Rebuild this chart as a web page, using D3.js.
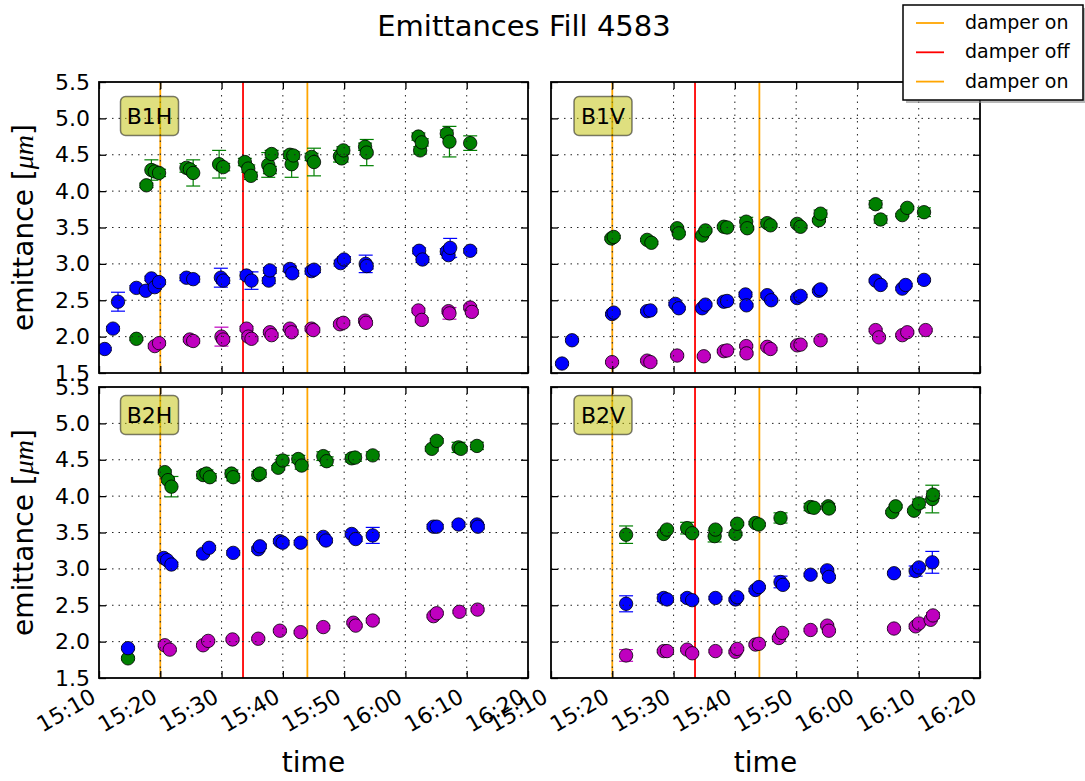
<!DOCTYPE html>
<html>
<head>
<meta charset="utf-8">
<script src="https://cdn.jsdelivr.net/npm/d3@7"></script>
<style>
	body { margin: 0; background: #fff; }
	svg { font-family: "DejaVu Sans", sans-serif; }
</style>
</head>
<body>
<svg id="chart" width="1085" height="781"></svg>
<script>
// Emittances Fill 4583 -- 2x2 panels, three emittance series per plane
// each point: [time, emittance (um), error]

const timeRange = ['15:10:00', '16:20:00'];
const yRange = [1.5, 5.5];
const yTicks = [1.5, 2.0, 2.5, 3.0, 3.5, 4.0, 4.5, 5.0, 5.5];
const panelNames = ['B1H', 'B1V', 'B2H', 'B2V'];

const damperTimes = ['15:20:00', '15:33:30', '15:44:00'];
const damperLabels = ['damper on', 'damper off', 'damper on'];
const damperColors = ['orange', 'red', 'orange'];

// ---- B1H ----
const b1hGreen = [
	['15:16:06', 1.97, 0.02], ['15:17:44', 4.08, 0.03], ['15:18:33', 4.29, 0.14], ['15:19:06', 4.27, 0.05],
	['15:19:48', 4.25, 0.05], ['15:24:16', 4.32, 0.06], ['15:24:49', 4.30, 0.05], ['15:25:22', 4.25, 0.18],
	['15:29:36', 4.37, 0.19], ['15:30:16', 4.33, 0.05], ['15:33:48', 4.40, 0.05], ['15:34:21', 4.31, 0.05],
	['15:34:47', 4.21, 0.05], ['15:37:37', 4.36, 0.17], ['15:37:53', 4.29, 0.05], ['15:38:10', 4.51, 0.05],
	['15:41:09', 4.50, 0.05], ['15:41:26', 4.37, 0.18], ['15:41:42', 4.49, 0.05], ['15:44:41', 4.47, 0.05],
	['15:45:05', 4.40, 0.19], ['15:49:19', 4.48, 0.08], ['15:49:36', 4.45, 0.05], ['15:49:52', 4.56, 0.05],
	['15:53:25', 4.61, 0.05], ['15:53:41', 4.53, 0.18], ['16:02:07', 4.75, 0.05], ['16:02:24', 4.56, 0.05],
	['16:02:40', 4.67, 0.05], ['16:06:45', 4.79, 0.05], ['16:07:11', 4.68, 0.21], ['16:10:34', 4.66, 0.10]
];
const b1hBlue = [
	['15:10:56', 1.83, 0.02], ['15:12:17', 2.11, 0.03], ['15:13:06', 2.48, 0.13], ['15:16:06', 2.67, 0.03],
	['15:17:38', 2.63, 0.03], ['15:18:33', 2.80, 0.03], ['15:19:06', 2.68, 0.03], ['15:19:48', 2.75, 0.03],
	['15:24:16', 2.81, 0.04], ['15:25:22', 2.79, 0.04], ['15:29:53', 2.81, 0.13], ['15:30:16', 2.77, 0.04],
	['15:34:04', 2.84, 0.05], ['15:34:53', 2.77, 0.12], ['15:37:42', 2.77, 0.04], ['15:37:53', 2.91, 0.04],
	['15:41:09', 2.93, 0.04], ['15:41:32', 2.87, 0.04], ['15:44:41', 2.90, 0.04], ['15:45:05', 2.92, 0.04],
	['15:49:26', 3.01, 0.04], ['15:49:59', 3.06, 0.04], ['15:53:31', 3.00, 0.12], ['15:53:41', 2.97, 0.04],
	['16:02:14', 3.18, 0.04], ['16:02:47', 3.06, 0.04], ['16:06:45', 3.17, 0.04], ['16:07:02', 3.12, 0.04],
	['16:07:18', 3.22, 0.13], ['16:10:34', 3.18, 0.03]
];
const b1hMagenta = [
	['15:19:06', 1.87, 0.03], ['15:19:48', 1.91, 0.03], ['15:24:49', 1.96, 0.03], ['15:25:22', 1.94, 0.03],
	['15:29:59', 2.00, 0.13], ['15:30:16', 1.96, 0.03], ['15:34:04', 2.11, 0.03], ['15:34:21', 2.00, 0.03],
	['15:34:53', 1.97, 0.03], ['15:37:53', 2.06, 0.03], ['15:38:10', 2.02, 0.03], ['15:41:09', 2.11, 0.03],
	['15:41:26', 2.06, 0.03], ['15:44:41', 2.11, 0.03], ['15:44:58', 2.09, 0.03], ['15:49:19', 2.17, 0.03],
	['15:49:52', 2.19, 0.03], ['15:53:25', 2.22, 0.03], ['15:53:34', 2.19, 0.03], ['16:02:07', 2.36, 0.03],
	['16:02:40', 2.23, 0.03], ['16:07:02', 2.35, 0.03], ['16:07:11', 2.32, 0.08], ['16:10:34', 2.40, 0.03],
	['16:10:50', 2.34, 0.03]
];

// ---- B1V ----
const b1vGreen = [
	['15:19:51', 3.35, 0.02], ['15:20:14', 3.37, 0.02], ['15:25:41', 3.33, 0.02], ['15:26:23', 3.29, 0.02],
	['15:30:35', 3.49, 0.02], ['15:30:51', 3.42, 0.02], ['15:34:40', 3.39, 0.02], ['15:35:12', 3.46, 0.02],
	['15:38:12', 3.51, 0.02], ['15:38:44', 3.50, 0.02], ['15:41:51', 3.58, 0.06], ['15:42:01', 3.49, 0.02],
	['15:45:17', 3.56, 0.05], ['15:45:49', 3.53, 0.02], ['15:50:10', 3.55, 0.02], ['15:50:43', 3.51, 0.02],
	['15:53:43', 3.60, 0.02], ['15:53:59', 3.69, 0.05], ['16:02:58', 3.82, 0.05], ['16:03:47', 3.61, 0.05],
	['16:07:19', 3.67, 0.02], ['16:08:08', 3.77, 0.02], ['16:10:52', 3.71, 0.06]
];
const b1vBlue = [
	['15:11:48', 1.63, 0.02], ['15:13:26', 1.95, 0.02], ['15:19:58', 2.31, 0.02], ['15:20:14', 2.33, 0.02],
	['15:25:41', 2.35, 0.02], ['15:26:13', 2.36, 0.02], ['15:30:18', 2.45, 0.02], ['15:30:51', 2.39, 0.02],
	['15:34:40', 2.39, 0.02], ['15:35:12', 2.44, 0.02], ['15:38:12', 2.48, 0.02], ['15:38:44', 2.49, 0.02],
	['15:41:44', 2.58, 0.03], ['15:41:54', 2.43, 0.02], ['15:45:17', 2.57, 0.03], ['15:45:56', 2.50, 0.02],
	['15:50:10', 2.53, 0.02], ['15:50:43', 2.56, 0.02], ['15:53:43', 2.63, 0.02], ['15:53:59', 2.65, 0.02],
	['16:02:58', 2.77, 0.02], ['16:03:47', 2.71, 0.02], ['16:07:19', 2.66, 0.02], ['16:07:52', 2.71, 0.02],
	['16:10:52', 2.78, 0.02]
];
const b1vMagenta = [
	['15:19:58', 1.65, 0.02], ['15:25:41', 1.67, 0.02], ['15:26:13', 1.65, 0.02], ['15:30:35', 1.74, 0.02],
	['15:34:56', 1.73, 0.02], ['15:38:12', 1.80, 0.02], ['15:38:44', 1.81, 0.02], ['15:41:51', 1.87, 0.02],
	['15:41:54', 1.77, 0.02], ['15:45:17', 1.86, 0.02], ['15:45:49', 1.83, 0.02], ['15:50:10', 1.88, 0.02],
	['15:50:43', 1.89, 0.02], ['15:53:59', 1.95, 0.02], ['16:02:58', 2.09, 0.02], ['16:03:31', 1.99, 0.02],
	['16:07:19', 2.02, 0.02], ['16:08:08', 2.06, 0.02], ['16:11:08', 2.09, 0.02]
];

// ---- B2H ----
const b2hGreen = [
	['15:14:44', 1.77, 0.02], ['15:20:44', 4.33, 0.03], ['15:21:16', 4.22, 0.03], ['15:21:49', 4.13, 0.14],
	['15:26:59', 4.29, 0.05], ['15:27:32', 4.31, 0.05], ['15:28:05', 4.26, 0.05], ['15:31:37', 4.31, 0.05],
	['15:31:54', 4.26, 0.05], ['15:35:59', 4.29, 0.05], ['15:36:15', 4.31, 0.05], ['15:39:15', 4.39, 0.03],
	['15:39:58', 4.49, 0.07], ['15:42:31', 4.51, 0.05], ['15:43:04', 4.42, 0.05], ['15:46:36', 4.55, 0.06],
	['15:47:09', 4.48, 0.06], ['15:51:14', 4.52, 0.05], ['15:51:47', 4.53, 0.05], ['15:54:40', 4.56, 0.05],
	['16:04:18', 4.65, 0.03], ['16:05:07', 4.76, 0.03], ['16:08:40', 4.67, 0.07], ['16:09:02', 4.65, 0.03],
	['16:11:40', 4.69, 0.05]
];
const b2hBlue = [
	['15:14:44', 1.91, 0.02], ['15:20:34', 3.15, 0.03], ['15:21:07', 3.12, 0.03], ['15:21:49', 3.06, 0.03],
	['15:26:59', 3.21, 0.03], ['15:27:58', 3.29, 0.03], ['15:31:54', 3.22, 0.03], ['15:35:59', 3.27, 0.03],
	['15:36:15', 3.31, 0.03], ['15:39:31', 3.38, 0.03], ['15:39:58', 3.36, 0.03], ['15:42:54', 3.36, 0.03],
	['15:46:36', 3.44, 0.03], ['15:47:02', 3.39, 0.03], ['15:51:14', 3.48, 0.03], ['15:51:53', 3.41, 0.03],
	['15:54:40', 3.46, 0.11], ['16:04:35', 3.58, 0.03], ['16:05:07', 3.58, 0.03], ['16:08:40', 3.61, 0.03],
	['16:11:40', 3.61, 0.03], ['16:11:49', 3.58, 0.03]
];
const b2hMagenta = [
	['15:20:44', 1.95, 0.02], ['15:21:33', 1.89, 0.02], ['15:26:59', 1.95, 0.02], ['15:27:49', 2.01, 0.02],
	['15:31:47', 2.03, 0.02], ['15:35:59', 2.04, 0.02], ['15:39:31', 2.15, 0.02], ['15:42:54', 2.13, 0.02],
	['15:46:36', 2.20, 0.02], ['15:51:30', 2.26, 0.02], ['15:51:53', 2.22, 0.02], ['15:54:40', 2.29, 0.03],
	['16:04:35', 2.35, 0.02], ['16:05:07', 2.39, 0.02], ['16:08:49', 2.41, 0.02], ['16:11:46', 2.44, 0.02]
];

// ---- B2V ----
const b2vGreen = [
	['15:22:15', 3.47, 0.12], ['15:28:24', 3.48, 0.02], ['15:28:56', 3.54, 0.02], ['15:32:13', 3.56, 0.08],
	['15:33:02', 3.49, 0.02], ['15:36:42', 3.45, 0.08], ['15:36:50', 3.54, 0.02], ['15:40:06', 3.48, 0.02],
	['15:40:23', 3.62, 0.02], ['15:43:22', 3.63, 0.02], ['15:43:55', 3.61, 0.02], ['15:47:27', 3.70, 0.07],
	['15:52:21', 3.85, 0.05], ['15:52:54', 3.84, 0.02], ['15:55:14', 3.86, 0.04], ['15:55:21', 3.83, 0.02],
	['16:05:41', 3.78, 0.02], ['16:06:14', 3.86, 0.02], ['16:09:14', 3.80, 0.02], ['16:10:02', 3.90, 0.06],
	['16:12:13', 3.96, 0.19], ['16:12:20', 4.02, 0.05]
];
const b2vBlue = [
	['15:22:15', 2.52, 0.11], ['15:28:24', 2.60, 0.05], ['15:28:56', 2.58, 0.02], ['15:32:13', 2.60, 0.04],
	['15:33:02', 2.57, 0.02], ['15:36:50', 2.60, 0.02], ['15:40:06', 2.58, 0.02], ['15:40:23', 2.61, 0.02],
	['15:43:22', 2.71, 0.02], ['15:43:55', 2.75, 0.02], ['15:47:27', 2.82, 0.08], ['15:47:50', 2.78, 0.02],
	['15:52:21', 2.92, 0.02], ['15:55:04', 2.98, 0.02], ['15:55:21', 2.89, 0.02], ['16:05:58', 2.94, 0.02],
	['16:09:30', 2.97, 0.07], ['16:10:02', 3.02, 0.02], ['16:12:13', 3.09, 0.15]
];
const b2vMagenta = [
	['15:22:15', 1.81, 0.08], ['15:28:24', 1.87, 0.02], ['15:28:56', 1.87, 0.02], ['15:32:13', 1.89, 0.02],
	['15:33:02', 1.84, 0.02], ['15:36:50', 1.87, 0.02], ['15:40:06', 1.86, 0.02], ['15:40:23', 1.90, 0.02],
	['15:43:22', 1.96, 0.02], ['15:43:55', 1.97, 0.02], ['15:47:11', 2.05, 0.02], ['15:47:43', 2.12, 0.02],
	['15:52:21', 2.16, 0.02], ['15:55:04', 2.22, 0.02], ['15:55:21', 2.15, 0.02], ['16:05:58', 2.18, 0.02],
	['16:09:30', 2.21, 0.03], ['16:10:02', 2.25, 0.02], ['16:11:57', 2.30, 0.02], ['16:12:20', 2.36, 0.04]
];

const seriesColors = ['#008000', '#0000ff', '#bf00bf'];
const panelSeries = [
	[b1hGreen, b1hBlue, b1hMagenta],
	[b1vGreen, b1vBlue, b1vMagenta],
	[b2hGreen, b2hBlue, b2hMagenta],
	[b2vGreen, b2vBlue, b2vMagenta]
];

const panelW = 429,
	panelH = 291,
	colX = [99, 551],
	rowY = [82, 387],
	boxDy = [14.5, 8.5];

const parseTime = d3.timeParse('%H:%M:%S');

const x = d3.scaleTime()
	.domain(timeRange.map(parseTime))
	.range([0, panelW]);

const y = d3.scaleLinear()
	.domain(yRange)
	.range([panelH, 0]);

const xTicks = x.ticks(d3.timeMinute.every(10));

const svg = d3.select('#chart');

// title
svg.append('text')
	.attr('x', 524).attr('y', 36)
	.attr('text-anchor', 'middle')
	.style('font-size', '29px')
	.text('Emittances Fill 4583');

panelNames.forEach((name, i) => {
	const col = i % 2, row = Math.floor(i / 2);
	const g = svg.append('g').attr('transform', `translate(${colX[col]},${rowY[row]})`);

	g.append('clipPath').attr('id', `clip${i}`)
		.append('rect').attr('width', panelW).attr('height', panelH);

	const plot = g.append('g').attr('clip-path', `url(#clip${i})`);

	// damper lines
	plot.selectAll('line.damper')
		.data(damperTimes)
		.enter().append('line')
		.attr('class', 'damper')
		.attr('x1', d => x(parseTime(d))).attr('x2', d => x(parseTime(d)))
		.attr('y1', 0).attr('y2', panelH)
		.attr('stroke', (d, j) => damperColors[j])
		.attr('stroke-width', 1.8);

	// error bars + markers
	panelSeries[i].forEach((pts, s) => {
		const c = seriesColors[s];
		const eb = plot.append('g').attr('stroke', c).attr('stroke-width', 1.2);
		pts.forEach(p => {
			const px = x(parseTime(p[0])), lo = y(p[1] - p[2]), hi = y(p[1] + p[2]);
			eb.append('line').attr('x1', px).attr('x2', px).attr('y1', lo).attr('y2', hi);
			eb.append('line').attr('x1', px - 7).attr('x2', px + 7).attr('y1', lo).attr('y2', lo);
			eb.append('line').attr('x1', px - 7).attr('x2', px + 7).attr('y1', hi).attr('y2', hi);
		});
		plot.append('g').selectAll('circle')
			.data(pts)
			.enter().append('circle')
			.attr('cx', d => x(parseTime(d[0])))
			.attr('cy', d => y(d[1]))
			.attr('r', 6.7)
			.attr('fill', c)
			.attr('stroke', '#000')
			.attr('stroke-width', 0.8);
	});

	// dotted grid (drawn over the data, like matplotlib classic)
	const grid = g.append('g').attr('stroke', '#222').attr('stroke-width', 1)
		.attr('stroke-dasharray', '1.5,5');
	grid.selectAll('line.gx').data(xTicks.slice(1, -1)).enter().append('line')
		.attr('x1', d => x(d)).attr('x2', d => x(d)).attr('y1', 0).attr('y2', panelH);
	grid.selectAll('line.gy').data(yTicks.slice(1, -1)).enter().append('line')
		.attr('x1', 0).attr('x2', panelW).attr('y1', d => y(d)).attr('y2', d => y(d));

	// inward ticks on all four sides
	const fmtY = d3.format('.1f'), fmtX = d3.timeFormat('%H:%M');
	const axL = g.append('g').call(d3.axisLeft(y).tickValues(yTicks).tickSize(-7).tickPadding(9).tickFormat(fmtY));
	const axR = g.append('g').attr('transform', `translate(${panelW},0)`)
		.call(d3.axisRight(y).tickValues(yTicks).tickSize(-7).tickFormat(''));
	const axT = g.append('g').call(d3.axisTop(x).tickValues(xTicks).tickSize(-7).tickFormat(''));
	const axB = g.append('g').attr('transform', `translate(0,${panelH})`)
		.call(d3.axisBottom(x).tickValues(xTicks).tickSize(-7).tickFormat(fmtX));

	[axL, axR, axT, axB].forEach(a => {
		a.select('.domain').remove();
		a.selectAll('line').attr('stroke', '#000').attr('stroke-width', 1.3);
		a.attr('font-family', null).attr('font-size', null);
		a.selectAll('text').style('font-size', '22px').attr('fill', '#000');
	});

	if (col === 1) axL.selectAll('text').remove();
	if (row === 0) axB.selectAll('text').remove();
	axB.selectAll('text')
		.attr('x', 0).attr('y', 0).attr('dy', null)
		.attr('text-anchor', 'end')
		.attr('transform', 'translate(-2,23) rotate(-30)');

	// frame
	g.append('rect')
		.attr('width', panelW).attr('height', panelH)
		.attr('fill', 'none').attr('stroke', '#000').attr('stroke-width', 1.8);

	// panel name box
	const bx = col === 0 ? 21.5 : 23;
	g.append('rect')
		.attr('x', bx).attr('y', boxDy[row])
		.attr('width', 58).attr('height', 39).attr('rx', 5)
		.attr('fill', 'rgba(191,191,0,0.5)')
		.attr('stroke', 'rgba(0,0,0,0.5)').attr('stroke-width', 1.5);
	g.append('text')
		.attr('x', bx + 29).attr('y', boxDy[row] + 27.5)
		.attr('text-anchor', 'middle')
		.style('font-size', '22px')
		.text(name);

	// axis labels
	if (col === 0) {
		const yl = svg.append('text')
			.attr('transform', `translate(33,${rowY[row] + panelH / 2}) rotate(-90)`)
			.attr('text-anchor', 'middle')
			.style('font-size', '28px');
		yl.append('tspan').text('emittance [');
		yl.append('tspan').style('font-family', '"Liberation Serif", serif').style('font-style', 'italic').text('\u03bcm');
		yl.append('tspan').text(']');
	}
	if (row === 1) {
		svg.append('text')
			.attr('x', colX[col] + panelW / 2).attr('y', 772)
			.attr('text-anchor', 'middle')
			.style('font-size', '28px')
			.text('time');
	}
});

// legend, on top of the upper-right panel
const leg = svg.append('g').attr('transform', 'translate(903,5)');
leg.append('rect')
	.attr('x', 3).attr('y', 3).attr('width', 180).attr('height', 95)
	.attr('fill', '#888').attr('opacity', 0.6);
leg.append('rect')
	.attr('width', 180).attr('height', 95)
	.attr('fill', '#fff').attr('stroke', '#000').attr('stroke-width', 1.5);
const item = leg.selectAll('g.item')
	.data(damperLabels)
	.enter().append('g')
	.attr('transform', (d, j) => `translate(0,${18 + j * 29.3})`);
item.append('line')
	.attr('x1', 13).attr('x2', 41)
	.attr('stroke', (d, j) => damperColors[j]).attr('stroke-width', 1.8);
item.append('text')
	.attr('x', 62).attr('y', 6)
	.style('font-size', '19px')
	.text(d => d);
</script>
</body>
</html>
